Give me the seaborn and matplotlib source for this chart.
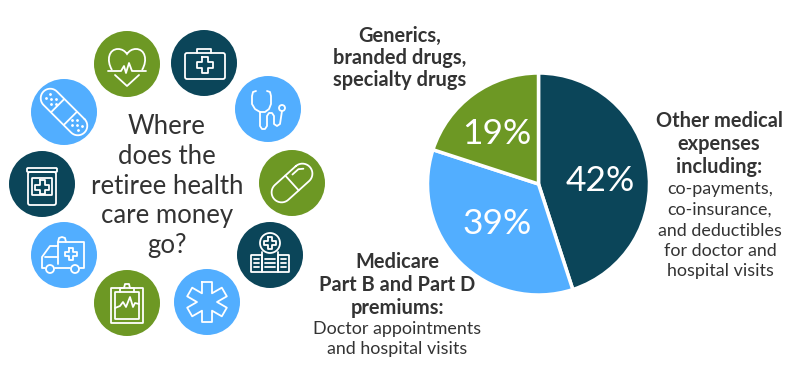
import numpy as np
import matplotlib
matplotlib.use('Agg')
import matplotlib.pyplot as plt
import seaborn as sns
from matplotlib.patches import Circle, FancyBboxPatch, PathPatch
from matplotlib.path import Path

# slice sizes as they are drawn in the picture (the printed labels differ a bit)
slice_shares = [45, 35, 20]
slice_labels = ['42%', '39%', '19%']
slice_colors = ['#0B4559', '#52AEFF', '#6D9824']

question = 'Where\ndoes the\nretiree health\ncare money\ngo?'
generics_title = ['Generics,', 'branded drugs,', 'specialty drugs']
other_title = ['Other medical', 'expenses', 'including:']
other_text = ['co-payments,', 'co-insurance,', 'and deductibles', 'for doctor and', 'hospital visits']
medicare_title = ['Medicare', 'Part B and Part D', 'premiums:']
medicare_text = ['Doctor appointments', 'and hospital visits']

NAVY, BLUE, GREEN = slice_colors[0], slice_colors[1], slice_colors[2]
TEXT = '#333333'
LW = 1.3

sns.set_theme(style='white')
plt.rcParams['font.family'] = ['Lato', 'DejaVu Sans']

fig = plt.figure(figsize=(8, 3.66), dpi=100)

# page axes in pixels, y going down
ax = fig.add_axes([0, 0, 1, 1])
ax.set_xlim(0, 800)
ax.set_ylim(366, 0)
ax.axis('off')
ax.set_zorder(2)

# pie
pie_ax = fig.add_axes([427.5 / 800, (366 - 184 - 111) / 366, 222 / 800, 222 / 366])
pie_ax.set_zorder(1)
wedges, _ = pie_ax.pie(slice_shares, colors=slice_colors, startangle=90, counterclock=False,
                       wedgeprops={'edgecolor': 'white', 'linewidth': 2.5})
pie_ax.set_xlim(-1.0, 1.0)
pie_ax.set_ylim(-1.0, 1.0)
for w in wedges:
    w.set_clip_on(False)

ax.text(600, 181, slice_labels[0], color='white', fontsize=25.5, ha='center', va='center')
ax.text(497, 224, slice_labels[1], color='white', fontsize=25.5, ha='center', va='center')
ax.text(497, 134, slice_labels[2], color='white', fontsize=25.5, ha='center', va='center')

# text blocks
ax.text(167, 186, question, color=TEXT, fontsize=18.5, ha='center', va='center', linespacing=1.24)


def lines(x, ys, rows, bold):
    for y, row in zip(ys, rows):
        ax.text(x, y, row, color=TEXT, ha='center', va='center', fontsize=14.4 if bold else 12.9,
                fontweight='bold' if bold else 'normal')


lines(400, [36, 58, 80], generics_title, True)
lines(719, [121, 144, 167], other_title, True)
lines(720, [189, 210, 231, 251, 271], other_text, False)
lines(397, [262, 285, 308], medicare_title, True)
lines(397, [329, 349], medicare_text, False)


# icon helpers, coordinates relative to circle centre
def stroke(c, pts, closed=False):
    pts = np.array(pts, dtype=float) + c
    if closed:
        pts = np.vstack([pts, pts[0]])
    ax.plot(pts[:, 0], pts[:, 1], color='white', lw=LW, solid_joinstyle='round', solid_capstyle='round')


def ring(c, x, y, r):
    ax.add_patch(Circle((c[0] + x, c[1] + y), r, fill=False, ec='white', lw=LW))


def box(c, x0, y0, x1, y1, r=1.5):
    ax.add_patch(FancyBboxPatch((c[0] + x0 + r, c[1] + y0 + r), x1 - x0 - 2 * r, y1 - y0 - 2 * r,
                                boxstyle='round,pad=%f,rounding_size=%f' % (r, r),
                                fill=False, ec='white', lw=LW))


def cross(c, x, y, a, b):
    stroke(c, [(x - b, y - a), (x + b, y - a), (x + b, y - b), (x + a, y - b), (x + a, y + b), (x + b, y + b),
               (x + b, y + a), (x - b, y + a), (x - b, y + b), (x - a, y + b), (x - a, y - b), (x - b, y - b)], True)


def rotated(pts, angle):
    a = np.radians(angle)
    pts = np.array(pts, dtype=float)
    return np.c_[pts[:, 0] * np.cos(a) - pts[:, 1] * np.sin(a), pts[:, 0] * np.sin(a) + pts[:, 1] * np.cos(a)]


def capsule(c, length, width, angle):
    r = width / 2
    d = length / 2 - r
    t = np.radians(np.linspace(-90, 90, 20))
    pts = [(d + r * np.cos(v), r * np.sin(v)) for v in t] + [(-d - r * np.cos(v), -r * np.sin(v)) for v in t]
    stroke(c, rotated(pts, angle), True)


def heart(c):
    codes = [Path.MOVETO] + [Path.CURVE4] * 12
    verts = [(-15, 6), (-21, -4), (-18, -15), (-9, -15), (-5, -15), (-2, -13), (0, -10),
             (2, -13), (5, -15), (9, -15), (18, -15), (21, -4), (15, 6)]
    verts = [(c[0] + x, c[1] + y) for x, y in verts]
    ax.add_patch(PathPatch(Path(verts, codes), fill=False, ec='white', lw=LW))
    stroke(c, [(-19, 7), (-6, 7), (-3, 2), (-1, 9), (2, -1), (5, 7), (19, 7)])
    stroke(c, [(-12, 11), (0, 22), (12, 11)])


def kit(c):
    box(c, -19, -10, 21, 16, 2)
    stroke(c, [(-7, -10), (-7, -14), (7, -14), (7, -10)])
    cross(c, 1, 2, 8, 3)


def stethoscope(c):
    stroke(c, [(-12, -18), (-15, -17), (-16, -13), (-16, -5), (-13, 0), (-8, 3), (-3, 3), (1, 0), (3, -5),
               (3, -13), (2, -17), (-1, -18)])
    stroke(c, [(-8, 3), (-8, 17), (-6, 20), (-3, 20), (-1, 17), (-1, 7), (1, 4), (4, 4), (6, 7), (6, 15),
               (9, 17), (12, 15), (14, 2)])
    ring(c, 14, -1, 3)


def pill(c):
    capsule(c, 48, 20, -42)
    stroke(c, rotated([(0, -10), (0, 10)], -42))
    stroke(c, rotated([(6, -6), (14, -6), (18, -3)], -42))


def hospital(c):
    ring(c, 0, -12, 10)
    cross(c, 0, -12, 6, 2.2)
    box(c, -19, 0, -8, 17, 0.5)
    box(c, 8, 0, 19, 17, 0.5)
    stroke(c, [(-8, -3), (-8, 17), (8, 17), (8, -3)])
    for y in (4, 8, 12):
        stroke(c, [(-16, y), (-11, y)])
        stroke(c, [(11, y), (16, y)])
        stroke(c, [(-5, y), (5, y)])


def star(c):
    pts = []
    for k in range(6):
        arm = rotated([(-5, -20), (5, -20), (5, -8.7)], 60 * k)
        pts.extend(arm.tolist())
    stroke(c, pts, True)


def clipboard(c):
    box(c, -16, -15, 16, 20, 0.5)
    box(c, -12, -11, 12, 16, 0.5)
    stroke(c, [(-7, -11), (-7, -15), (-3, -15), (-2, -19), (2, -19), (3, -15), (7, -15), (7, -11)])
    stroke(c, [(-12, 5), (-7, 3), (-4, -1), (-1, 4), (3, -6), (6, 4), (8, 0), (12, 1)])


def ambulance(c):
    stroke(c, [(-6, 9), (-6, -13), (20, -13), (20, 13), (16, 13)])
    stroke(c, [(-6, -9), (-14, -9), (-22, 2), (-22, 13), (-19, 13)])
    stroke(c, [(-9, 13), (6, 13)])
    stroke(c, [(-19, 2), (-6, 2)])
    ring(c, -14, 14, 4)
    ring(c, 11, 14, 4)
    cross(c, 7, -1, 6, 2.2)
    stroke(c, [(-6, -13), (-5, -17), (-2, -18), (1, -17), (2, -13)])


def jar(c):
    box(c, -15, -16, 15, -12, 1)
    box(c, -14, -12, 14, 21, 2)
    box(c, -10, -6, 10, 11, 0.5)
    cross(c, 0, 3, 7, 2.5)


def bandaid(c):
    capsule(c, 58, 19, 45)
    stroke(c, rotated([(-9, -9), (-9, 9)], 45))
    stroke(c, rotated([(9, -9), (9, 9)], 45))
    for sx in (-1, 1):
        for dx, dy in [(0, 0), (4, -3), (4, 3), (8, 0), (12, -3), (12, 3)]:
            x, y = rotated([(sx * (11 + dx), dy)], 45)[0]
            ax.plot(c[0] + x, c[1] + y, 'o', color='white', ms=1)


icons = [
    ((127, 64), GREEN, heart),
    ((204, 63), NAVY, kit),
    ((268, 109), BLUE, stethoscope),
    ((292, 183), GREEN, pill),
    ((270, 255), NAVY, hospital),
    ((207, 302), BLUE, star),
    ((127, 303), GREEN, clipboard),
    ((64, 255), BLUE, ambulance),
    ((42, 184), NAVY, jar),
    ((64, 112), BLUE, bandaid),
]

for centre, color, icon in icons:
    ax.add_patch(Circle(centre, 33, color=color, lw=0))
    icon(np.array(centre, dtype=float))

ax.set_xlim(0, 800)
ax.set_ylim(366, 0)
fig.savefig('out.png', dpi=100)
